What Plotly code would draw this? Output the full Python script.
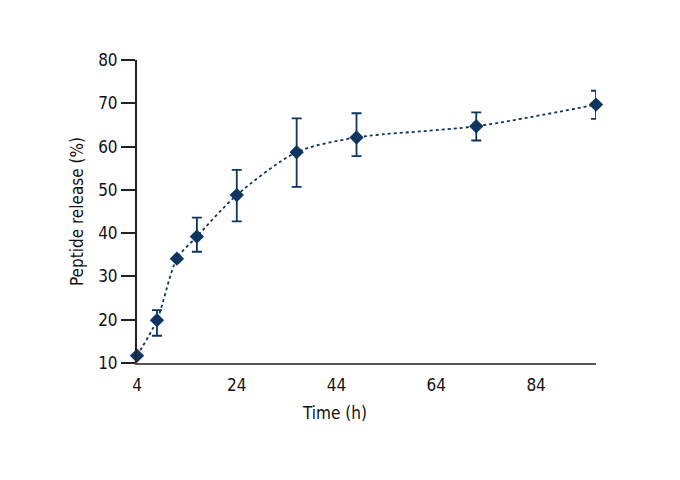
import plotly.graph_objects as go

time_h = [4, 8, 12, 16, 24, 36, 48, 72, 96]
release = [11.7, 19.9, 34.1, 39.2, 48.8, 58.7, 62.1, 64.7, 69.7]
err_plus = [0, 2.3, 0, 4.4, 5.8, 7.8, 5.6, 3.2, 3.2]
err_minus = [0, 3.6, 0, 3.5, 6.1, 8.0, 4.3, 3.3, 3.3]

x_ticks = [4, 24, 44, 64, 84]
y_ticks = [10, 20, 30, 40, 50, 60, 70, 80]

navy = "#0e3560"
font_family = "DejaVu Sans Condensed, Liberation Sans Narrow, sans-serif"

L, R, T, B = 129, 92, 52, 125
W, H = 680, 480

fig = go.Figure()
fig.add_trace(go.Scatter(
    x=time_h, y=release,
    mode="lines+markers",
    line=dict(color=navy, width=1.8, dash="dot", shape="spline", smoothing=0.8),
    marker=dict(symbol="diamond", size=11, color=navy),
    error_y=dict(type="data", symmetric=False, array=err_plus, arrayminus=err_minus,
                 color=navy, thickness=1.8, width=5, visible=True),
    cliponaxis=False,
    showlegend=False,
))

pw = W - L - R
ph = H - T - B

fig.update_layout(
    width=W, height=H,
    paper_bgcolor="white", plot_bgcolor="white",
    margin=dict(l=L, r=R, t=T, b=B),
    font=dict(family=font_family, size=17, color="#111111"),
    xaxis=dict(
        range=[4, 96], tickvals=x_ticks, ticktext=[str(v) for v in x_ticks],
        showgrid=False, zeroline=False, showline=True, linecolor="#555555", linewidth=2,
        ticks="", ticklabelstandoff=6,
    ),
    yaxis=dict(
        range=[10, 80], tickvals=y_ticks, ticktext=[str(v) for v in y_ticks],
        showgrid=False, zeroline=False, showline=True, linecolor="#222222", linewidth=2,
        ticks="outside", ticklen=14, tickwidth=2, tickcolor="#222222",
        title=dict(text="Peptide release (%)", standoff=10, font=dict(size=17)),
    ),
    annotations=[dict(
        text="Time (h)",
        x=(326 - L) / pw, y=(H - B - 405) / ph,
        xref="paper", yref="paper", yanchor="middle",
        showarrow=False, font=dict(size=17),
    )],
)

fig.write_html("out.html")
